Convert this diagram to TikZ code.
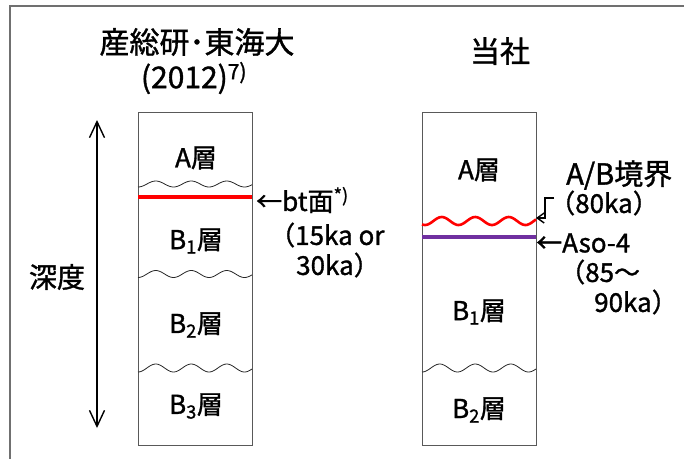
\documentclass[tikz,border=0pt]{standalone}
\usepackage{fontspec}
\setmainfont{Noto Sans CJK JP}[FakeBold=1.2]
\usetikzlibrary{arrows.meta}
\definecolor{frameg}{HTML}{707070}
\definecolor{boxg}{HTML}{595959}
\definecolor{purp}{HTML}{7030A0}
\begin{document}
\begin{tikzpicture}[x=1pt,y=-1pt,
 layerbox/.style={draw=boxg, line width=0.9pt, rectangle, inner sep=0pt, minimum width=114pt, minimum height=333pt},
 lbl/.style={font=\fontsize{26}{30}\selectfont, inner sep=0pt},
 ann/.style={font=\fontsize{26}{30}\selectfont, inner sep=0pt, anchor=west},
 ttl/.style={font=\fontsize{30}{34}\selectfont, inner sep=0pt},
 wave/.style={line width=0.8pt, black!85},
 bigtip/.style={{Straight Barb[length=16pt,width=15pt]}-{Straight Barb[length=16pt,width=15pt]}},
]
\useasboundingbox (0,0) rectangle (684,459);
\draw[frameg, line width=1.8pt] (684,6) -- (10,6) -- (10,459);
% boxes
\node[layerbox] (L) at (195,278.5) {};
\node[layerbox] (R) at (479,278.5) {};
% left boundaries
\draw[wave] plot[domain=0:114, samples=80] ({138+\x}, {184 + 3*cos(10.14*\x)});
\draw[red, line width=3.2pt] (138,197) -- (252,197);
\draw[wave] plot[domain=0:114, samples=80] ({138+\x}, {274 + 3.5*cos(10.14*\x)});
\draw[wave] plot[domain=0:114, samples=80] ({138+\x}, {368 + 4*cos(10.14*\x)});
% right boundaries
\draw[red, line width=2.6pt] plot[domain=0:114, samples=80] ({422+\x}, {221 + 4*cos(10.75*(\x-3))});
\draw[purp, line width=3.2pt] (422,237) -- (536,237);
\draw[wave] plot[domain=0:114, samples=80] ({422+\x}, {368 + 4*cos(10.14*\x)});
% depth arrow
\coordinate (dtop) at (97,120);
\coordinate (dbot) at (97,428);
\draw[bigtip, line width=1.4pt] (dtop) -- (dbot);
% titles
\node[ttl] (t1) at (197,42) {産総研･東海大};
\node[ttl] (t1b) at (194,78) {(2012)\textsuperscript{7)}};
\node[ttl] (t2) at (500,51) {当社};
\node[font=\fontsize{28}{32}\selectfont, inner sep=0pt] (depth) at (57,277) {深度};
% left labels
\node[lbl] (la) at (196,158) {A層};
\node[lbl] (lb1) at (196,241) {B\textsubscript{1}層};
\node[lbl] (lb2) at (196,325) {B\textsubscript{2}層};
\node[lbl] (lb3) at (196,406) {B\textsubscript{3}層};
% right labels
\node[lbl] (ra) at (479,170) {A層};
\node[lbl] (rb1) at (479,312) {B\textsubscript{1}層};
\node[lbl] (rb2) at (479,410) {B\textsubscript{2}層};
% annotations
\node[ann] (bt) at (256,200) {←bt面\textsuperscript{*)}};
\node[ann] (bt2) at (269,235) {（15ka or};
\node[ann] (bt3) at (296,265) {30ka）};
\node[ann, font=\fontsize{29}{33}\selectfont] (ab) at (566,175) {A/B境界};
\node[ann] (ab2) at (549,203) {（80ka）};
\node[ann] (aso) at (536,243) {←Aso-4};
\node[ann] (aso2) at (559,272) {（85～};
\node[ann] (aso3) at (594,302) {90ka）};
% bent arrow
\coordinate (abk) at (554,198);
\coordinate (abm) at (545,198);
\coordinate (abn) at (545,218);
\coordinate (abt) at (536,218);
\draw[line width=1.4pt, -{Straight Barb[length=7pt,width=10pt]}] (abk) -- (abm) -- (abn) -- (abt);
\end{tikzpicture}
\end{document}
